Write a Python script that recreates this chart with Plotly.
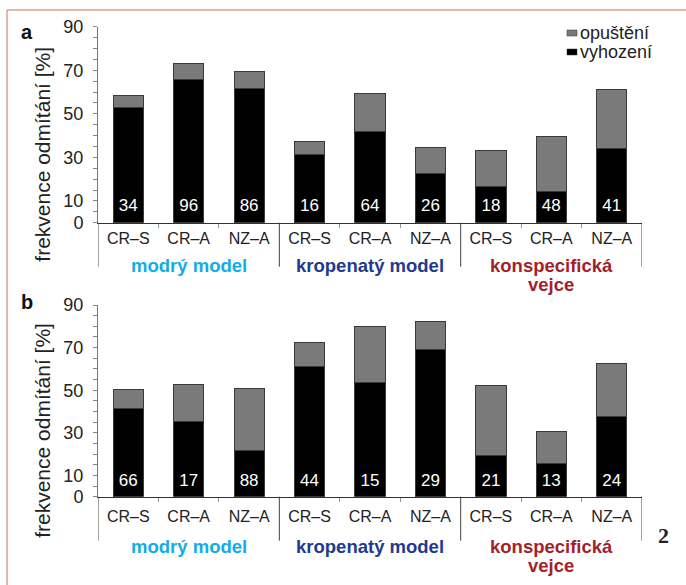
import plotly.graph_objects as go

W, H = 686, 585

categories = ["CR–S", "CR–A", "NZ–A", "CR–S", "CR–A", "NZ–A", "CR–S", "CR–A", "NZ–A"]
groups = ["modrý model", "kropenatý model", "konspecifická<br>vejce"]
group_sizes = [3, 3, 3]
group_colors = ["#11ade8", "#213a8d", "#a41f2b"]

# panel a
vyhozeni_a = [52.8, 65.7, 61.7, 31.1, 42.1, 22.8, 16.4, 14.4, 34.0]
opusteni_a = [5.8, 7.3, 7.9, 6.3, 17.3, 11.6, 16.7, 25.1, 27.1]
n_a = [34, 96, 86, 16, 64, 26, 18, 48, 41]

# panel b
vyhozeni_b = [41.2, 35.4, 21.6, 61.0, 53.4, 68.9, 19.3, 15.7, 37.6]
opusteni_b = [8.9, 17.4, 29.3, 11.6, 26.3, 13.4, 33.0, 15.0, 24.8]
n_b = [66, 17, 88, 44, 15, 29, 21, 13, 24]

y_tickvals = list(range(0, 95, 5))
y_labeled = [0, 10, 30, 50, 70, 90]

FONT = "Liberation Sans, Arial, sans-serif"
GRAY = "#7a7a7a"
OUTLINE = "#3a3a3a"

xpos = list(range(len(categories)))


def px_x(p):
    return p / W


def px_y(p):
    return 1 - p / H


fig = go.Figure()

panels = [
    dict(vy=vyhozeni_a, op=opusteni_a, n=n_a, xa="x", ya="y", top=26.7, bot=222.7),
    dict(vy=vyhozeni_b, op=opusteni_b, n=n_b, xa="x2", ya="y2", top=305.0, bot=496.7),
]

for p in panels:
    fig.add_trace(go.Bar(x=xpos, y=p["vy"], name="vyhození", width=0.5,
                         marker=dict(color="#000000", line=dict(color=OUTLINE, width=1)),
                         xaxis=p["xa"], yaxis=p["ya"], showlegend=False))
    fig.add_trace(go.Bar(x=xpos, y=p["op"], name="opuštění", width=0.5,
                         marker=dict(color=GRAY, line=dict(color=OUTLINE, width=1)),
                         xaxis=p["xa"], yaxis=p["ya"], showlegend=False))
    fig.add_trace(go.Scatter(x=xpos, y=[7.2] * len(xpos), mode="text",
                             text=[str(v) for v in p["n"]],
                             textfont=dict(color="white", size=17, family=FONT),
                             xaxis=p["xa"], yaxis=p["ya"], showlegend=False,
                             hoverinfo="skip"))

# group boundaries
bounds = [-0.5]
for s in group_sizes:
    bounds.append(bounds[-1] + s)
centers = [(bounds[i] + bounds[i + 1]) / 2 for i in range(len(group_sizes))]
minor_vals = [v + 0.5 for v in xpos[:-1] if (v + 0.5) not in bounds]

xd = [px_x(98), px_x(642)]
layout = dict(
    width=W, height=H,
    margin=dict(l=0, r=0, t=0, b=0, autoexpand=False),
    paper_bgcolor="white", plot_bgcolor="white",
    barmode="stack",
    font=dict(family=FONT, color="#222222"),
    showlegend=False,
)

shapes = []
annotations = []
for i, p in enumerate(panels):
    sfx = "" if i == 0 else "2"
    dom = [px_y(p["bot"]), px_y(p["top"])]
    plot_h = p["bot"] - p["top"]
    standoff = 1 if i == 0 else 5
    layout["xaxis" + sfx] = dict(
        domain=xd, range=[-0.5, len(xpos) - 0.5], anchor="y" + sfx,
        tickmode="array", tickvals=xpos, ticktext=categories,
        ticks="", showline=True, linecolor="#333333", linewidth=1,
        tickfont=dict(size=16, color="#222222"), ticklabelstandoff=standoff,
        showgrid=False, zeroline=False, fixedrange=True, automargin=False,
        minor=dict(tickmode="array", tickvals=minor_vals, ticks="outside",
                   ticklen=4, tickcolor="#999999", tickwidth=1, showgrid=False),
    )
    layout["yaxis" + sfx] = dict(
        domain=dom, range=[0, 90], anchor="x" + sfx,
        tickmode="array", tickvals=y_tickvals,
        ticktext=[str(v) if v in y_labeled else "" for v in y_tickvals],
        ticks="outside", ticklen=4, tickcolor="#888888", tickwidth=1,
        showline=True, linecolor="#777777", linewidth=1,
        tickfont=dict(size=18, color="#222222"), ticklabelstandoff=6,
        showgrid=False, zeroline=False, fixedrange=True, automargin=False,
    )
    sep = -44 / plot_h
    for b in bounds:
        shapes.append(dict(type="line", xref="x" + sfx, yref="y" + sfx + " domain",
                           x0=b, x1=b, y0=0, y1=sep,
                           line=dict(color="#444444", width=1)))
    g_off = (-43 if i == 0 else -50) / plot_h
    g_off2 = (-62 if i == 0 else -69) / plot_h
    for gname, gc, cx in zip(groups, group_colors, centers):
        parts = gname.split("<br>")
        annotations.append(dict(xref="x" + sfx, yref="y" + sfx + " domain",
                                x=cx, y=g_off, text="<b>" + parts[0] + "</b>",
                                showarrow=False, xanchor="center", yanchor="middle",
                                font=dict(size=18.5, color=gc)))
        if len(parts) > 1:
            annotations.append(dict(xref="x" + sfx, yref="y" + sfx + " domain",
                                    x=cx, y=g_off2, text="<b>" + parts[1] + "</b>",
                                    showarrow=False, xanchor="center", yanchor="middle",
                                    font=dict(size=18.5, color=gc)))
    # y title
    ymid = (p["top"] + 20 + p["bot"] + 40) / 2
    annotations.append(dict(xref="paper", yref="paper", x=px_x(43), y=px_y(ymid),
                            text="frekvence odmítání [%]", textangle=-90,
                            showarrow=False, xanchor="center", yanchor="middle",
                            font=dict(size=21, color="#222222")))

# panel letters
annotations.append(dict(xref="paper", yref="paper", x=px_x(27), y=px_y(32), text="<b>a</b>",
                        showarrow=False, xanchor="center", yanchor="middle",
                        font=dict(size=20, color="#111111")))
annotations.append(dict(xref="paper", yref="paper", x=px_x(27), y=px_y(302), text="<b>b</b>",
                        showarrow=False, xanchor="center", yanchor="middle",
                        font=dict(size=20, color="#111111")))
annotations.append(dict(xref="paper", yref="paper", x=px_x(663), y=px_y(535), text="<b>2</b>",
                        showarrow=False, xanchor="center", yanchor="middle",
                        font=dict(size=22, color="#222222",
                                  family="Liberation Serif, DejaVu Serif, serif")))

# legend (keys + labels)
legend_items = [("opuštění", GRAY, 33), ("vyhození", "#000000", 52)]
for label, col, cy in legend_items:
    shapes.append(dict(type="rect", xref="paper", yref="paper",
                       x0=px_x(567), x1=px_x(577), y0=px_y(cy + 3), y1=px_y(cy - 3),
                       fillcolor=col, line=dict(color="#333333", width=0.5)))
    annotations.append(dict(xref="paper", yref="paper", x=px_x(578), y=px_y(cy),
                            text=label, showarrow=False, xanchor="left", yanchor="middle",
                            font=dict(size=18, color="#222222")))

# frame lines (top and left)
shapes.append(dict(type="line", xref="paper", yref="paper", x0=px_x(7), x1=1,
                   y0=px_y(10), y1=px_y(10), line=dict(color="#d9a28c", width=1.5)))
shapes.append(dict(type="line", xref="paper", yref="paper", x0=px_x(7), x1=px_x(7),
                   y0=px_y(10), y1=0, line=dict(color="#d9a28c", width=1.5)))

layout["shapes"] = shapes
layout["annotations"] = annotations
fig.update_layout(**layout)

fig.write_html("out.html", config={"displayModeBar": False},
               post_script="document.body.style.margin='0';document.body.style.padding='0';")
